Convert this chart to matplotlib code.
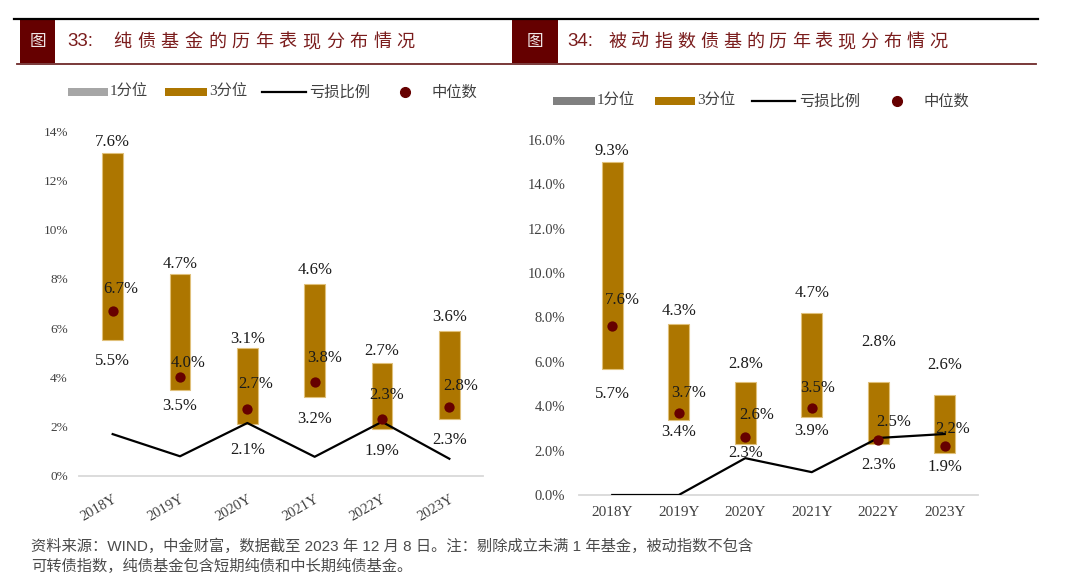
import matplotlib
matplotlib.use("Agg")
import matplotlib.pyplot as plt
from matplotlib.patches import Rectangle
from matplotlib.lines import Line2D

# ---------------- data ----------------
years = ["2018Y", "2019Y", "2020Y", "2021Y", "2022Y", "2023Y"]

# 图33 纯债基金
left_q1 = [5.5, 3.5, 2.1, 3.2, 1.9, 2.3]          # 1分位
left_spread = [7.6, 4.7, 3.1, 4.6, 2.7, 3.6]      # 3分位 - 1分位
left_median = [6.7, 4.0, 2.7, 3.8, 2.3, 2.8]      # 中位数
left_loss = [1.7, 0.8, 2.15, 0.78, 2.2, 0.7]      # 亏损比例

# 图34 被动指数债基
right_q1 = [5.7, 3.4, 2.3, 3.5, 2.3, 1.9]
right_spread = [9.3, 4.3, 2.8, 4.7, 2.8, 2.6]
right_median = [7.6, 3.7, 2.6, 3.9, 2.5, 2.2]
right_loss = [0.0, 0.0, 1.66, 1.03, 2.57, 2.75]
# labels as printed on the original chart
right_q1_labels = ["5.7%", "3.4%", "2.3%", "3.9%", "2.3%", "1.9%"]
right_median_labels = ["7.6%", "3.7%", "2.6%", "3.5%", "2.5%", "2.2%"]

left_title_num = "33:"
left_title = "纯债基金的历年表现分布情况"
right_title_num = "34:"
right_title = "被动指数债基的历年表现分布情况"
legend_labels = ["1分位", "3分位", "亏损比例", "中位数"]
footer_lines = [
    "资料来源：WIND，中金财富，数据截至 2023 年 12 月 8 日。注：剔除成立未满 1 年基金，被动指数不包含",
    "可转债指数，纯债基金包含短期纯债和中长期纯债基金。",
]

# ---------------- style ----------------
W, H = 1080, 588
GOLD = "#AD7600"
DOT = "#660000"
DARKRED = "#650000"
SERIF = ["Liberation Serif", "Noto Sans CJK SC"]
CJK = ["Noto Sans CJK SC", "DejaVu Sans"]
plt.rcParams["font.family"] = SERIF

fig = plt.figure(figsize=(W / 100, H / 100), dpi=100)


def fx(x):
    return x / W


def fy(y):
    return 1 - y / H


def axes_px(x0, x1, ytop, ybot):
    return fig.add_axes([fx(x0), fy(ybot), (x1 - x0) / W, (ybot - ytop) / H])


# ---------------- header ----------------
fig.add_artist(Line2D([fx(14), fx(1038)], [fy(19), fy(19)], color="black", lw=1.6))
fig.add_artist(Line2D([fx(17), fx(1036)], [fy(63.5), fy(63.5)], color="#6e2a2a", lw=1.3))
for (x0, x1) in [(20, 55), (512, 558)]:
    fig.add_artist(Rectangle((fx(x0), fy(63)), (x1 - x0) / W, 43 / H,
                             transform=fig.transFigure, color=DARKRED, lw=0))
    fig.text(fx((x0 + x1) / 2), fy(41.5), "图", family=CJK, fontsize=12,
             color="#f0e6e6", ha="center", va="center")


def title(xnum, num, xstart, text, pitch):
    fig.text(fx(xnum), fy(42), num, family=["Liberation Sans"], fontsize=13.5,
             color="#7a1c1c", ha="left", va="center")
    for i, ch in enumerate(text):
        fig.text(fx(xstart + i * pitch + 8.5), fy(42), ch, family=CJK, fontsize=13,
                 color="#7a1c1c", ha="center", va="center")


title(67, left_title_num, 114, left_title, 23.6)
title(567, right_title_num, 609, right_title, 22.9)


# ---------------- legends ----------------
def legend(yc, gray, xs):
    g0, g1, tg, o0, o1, to, l0, l1, tl, dx, td = xs
    fig.add_artist(Rectangle((fx(g0), fy(yc + 4)), (g1 - g0) / W, 8 / H,
                             transform=fig.transFigure, color=gray, lw=0))
    fig.text(fx(tg), fy(yc), legend_labels[0], family=SERIF, fontsize=11,
             ha="left", va="center", color="#404040")
    fig.add_artist(Rectangle((fx(o0), fy(yc + 4)), (o1 - o0) / W, 8 / H,
                             transform=fig.transFigure, color=GOLD, lw=0))
    fig.text(fx(to), fy(yc), legend_labels[1], family=SERIF, fontsize=11,
             ha="left", va="center", color="#404040")
    fig.add_artist(Line2D([fx(l0), fx(l1)], [fy(yc), fy(yc)], color="black", lw=1.6))
    fig.text(fx(tl), fy(yc), legend_labels[2], family=CJK, fontsize=11,
             ha="left", va="center", color="#404040")
    fig.add_artist(Line2D([fx(dx)], [fy(yc)], marker="o", markersize=7,
                          color=DOT, lw=0))
    fig.text(fx(td), fy(yc), legend_labels[3], family=CJK, fontsize=11,
             ha="left", va="center", color="#404040")


legend(92, "#a6a6a6", (68, 108, 110, 165, 207, 209, 262, 306, 309, 405, 432))
legend(101, "#808080", (553, 595, 597, 655, 695, 697, 752, 795, 799, 897, 924))


# ---------------- charts ----------------
def chart(ax, q1, spread, median, loss, ymax, fmt, tick_fs, rot, top_dy, bot_dy,
          med_dx, med_dy, q1_labels, med_labels, bar_w):
    x = list(range(len(years)))
    ax.bar(x, q1, width=bar_w, color="none", lw=0, zorder=1)
    ax.bar(x, spread, bottom=q1, width=bar_w, color=GOLD, edgecolor="#e0c07a",
           lw=0.8, zorder=2)
    ax.plot(x, loss, color="black", lw=1.6, zorder=3)
    ax.scatter(x, median, s=55, color=DOT, zorder=4, lw=0)
    k = 0.72
    for i in x:
        top = q1[i] + spread[i]
        ax.annotate(f"{spread[i]:.1f}%", (i, top), xytext=(0, top_dy[i] * k),
                    textcoords="offset points", ha="center", va="center",
                    fontsize=12, color="#1a1a1a", zorder=6)
        ax.annotate(q1_labels[i], (i, q1[i]), xytext=(0, -bot_dy[i] * k),
                    textcoords="offset points", ha="center", va="center",
                    fontsize=12, color="#1a1a1a", zorder=6)
        ax.annotate(med_labels[i], (i, median[i]),
                    xytext=(med_dx[i] * k, med_dy[i] * k),
                    textcoords="offset points", ha="center", va="center",
                    fontsize=12, color="#1a1a1a", zorder=6)
    ax.set_xlim(-0.5, len(years) - 0.5)
    ax.set_ylim(0, ymax)
    ax.set_yticks(list(range(0, ymax + 1, 2)))
    ax.set_yticklabels([fmt.format(v) for v in range(0, ymax + 1, 2)],
                       fontsize=tick_fs, color="#404040")
    ax.set_xticks(x)
    if rot:
        ax.set_xticklabels(years, rotation=30, ha="right", va="top",
                           rotation_mode="anchor", fontsize=10.5, color="#404040")
    else:
        ax.set_xticklabels(years, fontsize=11, color="#404040")
    for s in ["top", "right", "left"]:
        ax.spines[s].set_visible(False)
    ax.spines["bottom"].set_color("#d9d9d9")
    ax.spines["bottom"].set_linewidth(1.3)
    ax.tick_params(length=0)
    ax.patch.set_alpha(0)


axL = axes_px(79, 483, 131, 476)
chart(axL, left_q1, left_spread, left_median, left_loss, 14, "{}%", 9.5, True,
      [11, 10, 9, 14, 12, 14], [21, 16, 26, 22, 22, 21],
      [8, 8, 8, 10, 5, 11], [22, 14, 25, 24, 24, 21],
      [f"{v:.1f}%" for v in left_q1], [f"{v:.1f}%" for v in left_median], 0.31)
axL.tick_params(axis="y", pad=8)
axL.tick_params(axis="x", pad=12)

axR = axes_px(579, 978, 140, 495)
chart(axR, right_q1, right_spread, right_median, right_loss, 16, "{:.1f}%", 10.5, False,
      [11, 13, 18, 20, 40, 30], [25, 12, 9, 14, 21, 14],
      [10, 10, 11, 6, 15, 8], [26, 20, 22, 20, 18, 17],
      right_q1_labels, right_median_labels, 0.32)
axR.tick_params(axis="y", pad=10)
axR.tick_params(axis="x", pad=8)

# ---------------- footer ----------------
for i, line in enumerate(footer_lines):
    fig.text(fx(31), fy(546 + 20 * i), line, family=["Liberation Sans", "Noto Sans CJK SC"],
             fontsize=11, color="#4a4a4a", ha="left", va="center")

fig.savefig("out.png", dpi=100)
